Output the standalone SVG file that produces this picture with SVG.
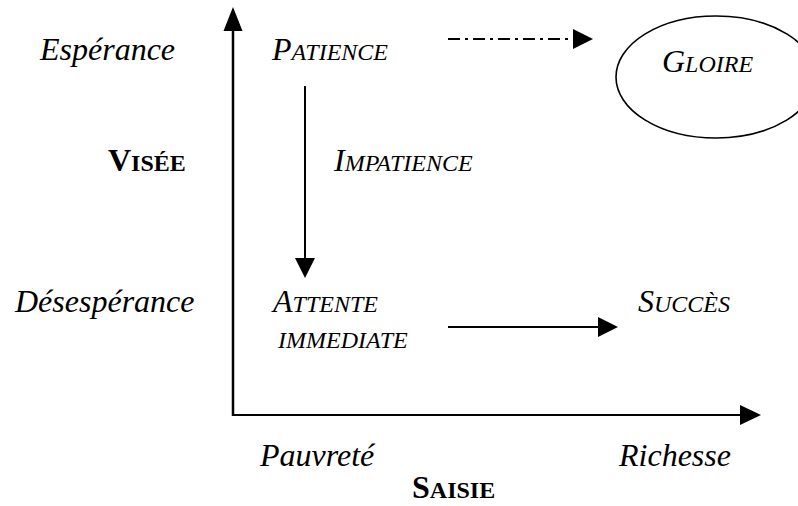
<svg xmlns="http://www.w3.org/2000/svg" width="798" height="506" viewBox="0 0 798 506">
<style>
.t{font-family:"Liberation Serif","Times New Roman",serif;font-style:italic;font-size:32px;fill:#000}
.b{font-family:"Liberation Serif","Times New Roman",serif;font-weight:bold;font-size:32px;fill:#000}
.sc{font-size:24px}
.ln{stroke:#000;fill:none}
.hd{fill:#000;stroke:none}
</style>
<rect width="798" height="506" fill="#fff"/>
<g id="connectors">
  <g id="axis-y">
    <line class="ln" x1="233" y1="416" x2="233" y2="28" stroke-width="2.5"/>
    <polygon class="hd" points="233,7 223.5,31 242.5,31"/>
  </g>
  <g id="axis-x">
    <line class="ln" x1="232" y1="415" x2="742" y2="415" stroke-width="2.2"/>
    <polygon class="hd" points="761,415 740,405 740,425"/>
  </g>
  <g id="patience-impatience">
    <line class="ln" x1="305" y1="86" x2="305" y2="260" stroke-width="2"/>
    <polygon class="hd" points="305,278 295,258 315,258"/>
  </g>
  <g id="attente-succes">
    <line class="ln" x1="448" y1="327" x2="599" y2="327" stroke-width="2"/>
    <polygon class="hd" points="618,327 598,317 598,337"/>
  </g>
  <g id="patience-gloire">
    <line class="ln" x1="448" y1="39" x2="574" y2="39" stroke-width="2" stroke-dasharray="12 5 3 5"/>
    <polygon class="hd" points="593,39 573,29 573,49"/>
  </g>
</g>
<g id="label-esperance"><text class="t" x="40" y="60">Espérance</text></g>
<g id="label-desesperance"><text class="t" x="15" y="312">Désespérance</text></g>
<g id="label-visee"><text class="b" x="108" y="171">V<tspan class="sc">ISÉE</tspan></text></g>
<g id="label-pauvrete"><text class="t" x="260" y="466">Pauvreté</text></g>
<g id="label-richesse"><text class="t" x="619" y="466">Richesse</text></g>
<g id="label-saisie"><text class="b" x="412" y="498">S<tspan class="sc">AISIE</tspan></text></g>
<g id="node-patience"><text class="t" x="272" y="60">P<tspan class="sc">ATIENCE</tspan></text></g>
<g id="label-impatience"><text class="t" x="334" y="171">I<tspan class="sc">MPATIENCE</tspan></text></g>
<g id="node-attente">
  <text class="t" x="273" y="312">A<tspan class="sc">TTENTE</tspan></text>
  <text class="t sc" x="278" y="348">IMMEDIATE</text>
</g>
<g id="node-succes"><text class="t" x="638" y="312">S<tspan class="sc">UCCÈS</tspan></text></g>
<g id="node-gloire">
  <ellipse class="ln" cx="716" cy="77" rx="100" ry="61" stroke-width="1.6"/>
  <text class="t" x="662" y="72">G<tspan class="sc">LOIRE</tspan></text>
</g>
</svg>
